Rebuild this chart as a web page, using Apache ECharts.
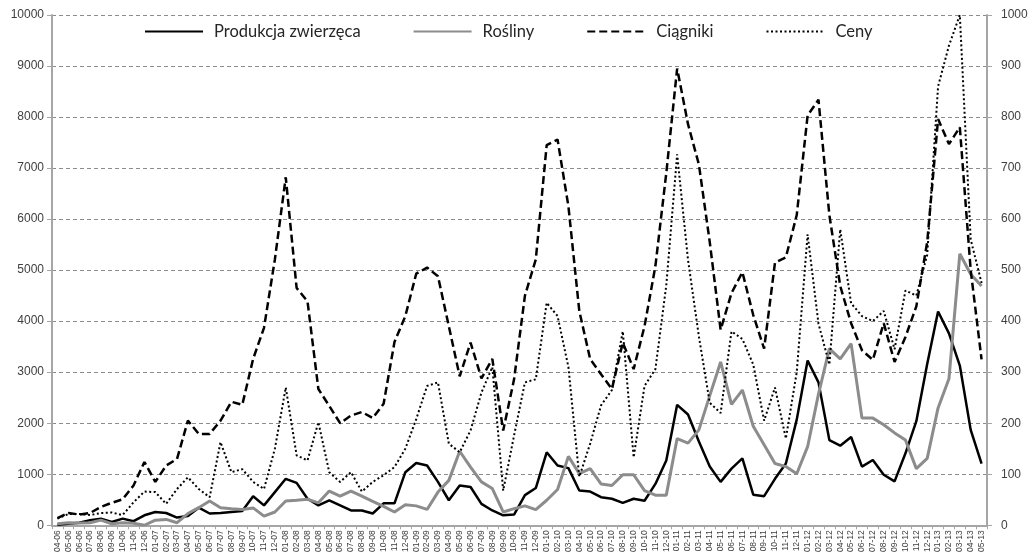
<!DOCTYPE html>
<html>
<head>
<meta charset="utf-8">
<script src="https://cdn.jsdelivr.net/npm/echarts@6/dist/echarts.min.js"></script>
<style>
  html, body { margin: 0; padding: 0; background: #fff; }
  #chart { width: 1032px; height: 555px; }
</style>
</head>
<body>
<div id="chart"></div>
<script>
// Months (MM-YY)
const months = [
  '04-06','05-06','06-06','07-06','08-06','09-06','10-06','11-06','12-06',
  '01-07','02-07','03-07','04-07','05-07','06-07','07-07','08-07','09-07','10-07','11-07','12-07',
  '01-08','02-08','03-08','04-08','05-08','06-08','07-08','08-08','09-08','10-08','11-08','12-08',
  '01-09','02-09','03-09','04-09','05-09','06-09','07-09','08-09','09-09','10-09','11-09','12-09',
  '01-10','02-10','03-10','04-10','05-10','06-10','07-10','08-10','09-10','10-10','11-10','12-10',
  '01-11','02-11','03-11','04-11','05-11','06-11','07-11','08-11','09-11','10-11','11-11','12-11',
  '01-12','02-12','03-12','04-12','05-12','06-12','07-12','08-12','09-12','10-12','11-12','12-12',
  '01-13','02-13','03-13','04-13','05-13'
];

// Left axis series
const produkcjaZwierzeca = [
  10, 30, 50, 100, 130, 65, 130, 80, 195,
  260, 240, 150, 180, 345, 230, 240, 260, 280, 570, 390, 650,
  910, 830, 520, 390, 490, 390, 290, 290, 230, 430, 430, 1040,
  1220, 1170, 850, 490, 780, 750, 420, 290, 195, 210, 590, 730,
  1430, 1170, 1120, 680, 660, 550, 520, 440, 520, 480, 810, 1270,
  2360, 2170, 1640, 1150, 850, 1110, 1310, 600, 570, 910, 1210, 2070,
  3230, 2800, 1670, 1560, 1730, 1150, 1280, 990, 860, 1410, 2040, 3160,
  4190, 3760, 3130, 1870, 1210
];

const rosliny = [
  30, 50, 45, 50, 100, 30, 50, 40, 0,
  100, 115, 50, 230, 345, 475, 345, 325, 310, 340, 180, 260,
  475, 490, 510, 440, 670, 570, 670, 570, 470, 370, 260, 400,
  380, 310, 650, 880, 1450, 1140, 850, 720, 260, 325, 380, 305,
  490, 700, 1350, 1010, 1110, 810, 780, 990, 990, 680, 590, 590,
  1700, 1610, 1870, 2540, 3200, 2370, 2650, 1940, 1580, 1210, 1150, 1010,
  1540, 2570, 3460, 3260, 3560, 2100, 2100, 1970, 1810, 1670, 1110, 1310,
  2300, 2870, 5320, 4920, 4690
];

const ciagniki = [
  140, 240, 210, 240, 360, 440, 510, 780, 1240,
  850, 1170, 1300, 2050, 1790, 1790, 2050, 2420, 2360, 3260, 3870, 5210,
  6820, 4650, 4390, 2670, 2340, 2000, 2150, 2220, 2100, 2380, 3590, 4100,
  4930, 5050, 4880, 3900, 2920, 3580, 2880, 3260, 1855, 2860, 4500, 5210,
  7450, 7560, 6250, 4200, 3255, 2960, 2670, 3580, 3060, 3900, 5080, 6900,
  8950, 7860, 7070, 5550, 3830, 4550, 4960, 4120, 3460, 5150, 5250, 6080,
  8030, 8340, 6080, 4690, 3960, 3430, 3240, 3960, 3200, 3690, 4290, 5550,
  7960, 7470, 7800, 5000, 3250
];

// Right axis series
const ceny = [
  13, 22, 22, 20, 24, 25, 20, 45, 66,
  65, 42, 71, 94, 71, 55, 163, 104, 110, 85, 71, 150,
  270, 137, 127, 202, 104, 85, 104, 66, 85, 98, 114, 150,
  208, 273, 280, 160, 143, 186, 260, 310, 68, 176, 280, 286,
  436, 410, 310, 95, 160, 235, 265, 380, 133, 273, 306, 470,
  727, 520, 370, 240, 220, 380, 365, 315, 205, 270, 170, 300,
  570, 395, 315, 580, 435, 410, 400, 420, 345, 460, 450, 530,
  860, 940, 1000, 560, 475
];

const axisGray = '#a6a6a6';
const textColor = '#404040';
const baseFont = 'Liberation Sans, Arial, sans-serif';

const chart = echarts.init(document.getElementById('chart'), null, { renderer: 'canvas' });

chart.setOption({
  animation: false,
  backgroundColor: '#ffffff',
  grid: { left: 52, right: 45, top: 15, bottom: 29, containLabel: false },
  legend: {
    top: 18,
    left: 139,
    itemWidth: 58,
    itemHeight: 14,
    itemGap: 52,
    itemStyle: { opacity: 0 },
    textStyle: { fontFamily: 'Lato, sans-serif', fontSize: 16.5, color: '#262626', padding: [0, 0, 0, 6] },
    data: ['Produkcja zwierzęca', 'Rośliny', 'Ciągniki', 'Ceny']
  },
  xAxis: {
    type: 'category',
    data: months,
    boundaryGap: true,
    axisLine: { lineStyle: { color: axisGray, width: 2 } },
    axisTick: { show: true, alignWithLabel: false, length: 4, lineStyle: { color: axisGray, width: 1 } },
    axisLabel: {
      interval: 0,
      rotate: 90,
      fontSize: 8.5,
      fontFamily: baseFont,
      color: textColor,
      margin: 5
    },
    splitLine: { show: false }
  },
  yAxis: [
    {
      type: 'value',
      min: 0,
      max: 10000,
      interval: 1000,
      position: 'left',
      axisLine: { show: true, lineStyle: { color: axisGray, width: 2 } },
      axisTick: { show: true, length: 5, lineStyle: { color: axisGray } },
      axisLabel: { fontSize: 12, fontFamily: baseFont, color: textColor, margin: 8, formatter: v => String(v) },
      splitLine: { show: true, lineStyle: { color: '#8c8c8c', width: 1, type: [4, 3] } }
    },
    {
      type: 'value',
      min: 0,
      max: 1000,
      interval: 100,
      position: 'right',
      axisLine: { show: true, lineStyle: { color: axisGray, width: 2 } },
      axisTick: { show: true, length: 5, lineStyle: { color: axisGray } },
      axisLabel: { fontSize: 12, fontFamily: baseFont, color: textColor, margin: 14, formatter: v => String(v) },
      splitLine: { show: false }
    }
  ],
  series: [
    {
      name: 'Produkcja zwierzęca',
      type: 'line',
      yAxisIndex: 0,
      data: produkcjaZwierzeca,
      symbol: 'none',
      lineStyle: { color: '#000000', width: 2.5, type: 'solid' },
      itemStyle: { color: '#000000' }
    },
    {
      name: 'Rośliny',
      type: 'line',
      yAxisIndex: 0,
      data: rosliny,
      symbol: 'none',
      lineStyle: { color: '#8c8c8c', width: 3, type: 'solid' },
      itemStyle: { color: '#8c8c8c' }
    },
    {
      name: 'Ciągniki',
      type: 'line',
      yAxisIndex: 0,
      data: ciagniki,
      symbol: 'none',
      lineStyle: { color: '#000000', width: 2.5, type: [8, 4] },
      itemStyle: { color: '#000000' }
    },
    {
      name: 'Ceny',
      type: 'line',
      yAxisIndex: 1,
      data: ceny,
      symbol: 'none',
      lineStyle: { color: '#000000', width: 2, type: [2, 2.5] },
      itemStyle: { color: '#000000' }
    }
  ]
});
</script>
</body>
</html>
